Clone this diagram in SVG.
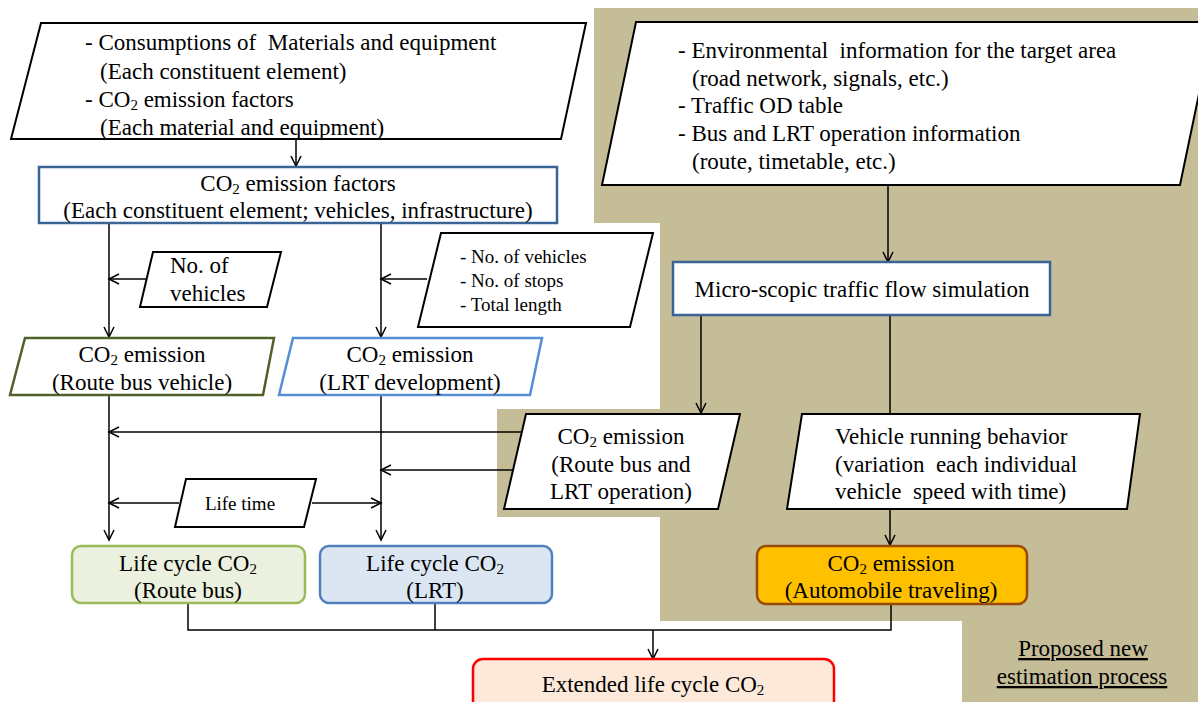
<svg xmlns="http://www.w3.org/2000/svg" width="1198" height="702" viewBox="0 0 1198 702">
<defs>
<marker id="arr" markerUnits="userSpaceOnUse" markerWidth="14" markerHeight="14" refX="11" refY="6" orient="auto">
<path d="M1,1 L11,6 L1,11" fill="none" stroke="#000" stroke-width="1.5"/>
</marker>
<style>
text{font-family:"Liberation Serif","Times New Roman",serif;font-size:23px;fill:#000}
.s{font-size:19px}
.sub{font-size:15px}
.c{text-anchor:middle}
.par{fill:#fff;stroke:#000;stroke-width:2}
.con{fill:none;stroke:#000;stroke-width:1.5}
.blue{fill:#fff;stroke:#3B6496;stroke-width:2.5}
</style>
</defs>
<rect width="1198" height="702" fill="#fff"/>
<polygon id="proposed-area" points="594,8 1198,8 1198,702 962,702 962,621 660,621 660,517 497,517 497,409 660,409 660,223 594,223" fill="#C4BD97"/>

<g id="connectors">
<line class="con" x1="296" y1="139" x2="296" y2="166" marker-end="url(#arr)"/>
<line class="con" x1="109" y1="223" x2="109" y2="337" marker-end="url(#arr)"/>
<line class="con" x1="381" y1="223" x2="381" y2="337" marker-end="url(#arr)"/>
<line class="con" x1="146" y1="279" x2="109" y2="279" marker-end="url(#arr)"/>
<line class="con" x1="427" y1="279" x2="381" y2="279" marker-end="url(#arr)"/>
<line class="con" x1="888" y1="185" x2="888" y2="262" marker-end="url(#arr)"/>
<line class="con" x1="701" y1="315" x2="701" y2="413" marker-end="url(#arr)"/>
<line class="con" x1="890" y1="315" x2="890" y2="413"/>
<line class="con" x1="109" y1="395" x2="109" y2="540" marker-end="url(#arr)"/>
<line class="con" x1="381" y1="395" x2="381" y2="540" marker-end="url(#arr)"/>
<line class="con" x1="521" y1="432" x2="109" y2="432" marker-end="url(#arr)"/>
<line class="con" x1="513" y1="470" x2="381" y2="470" marker-end="url(#arr)"/>
<line class="con" x1="179" y1="503" x2="109" y2="503" marker-end="url(#arr)"/>
<line class="con" x1="312" y1="503" x2="381" y2="503" marker-end="url(#arr)"/>
<line class="con" x1="890" y1="509" x2="890" y2="545" marker-end="url(#arr)"/>
<polyline class="con" points="188,603 188,630 891,630 891,604"/>
<line class="con" x1="435" y1="603" x2="435" y2="630"/>
<line class="con" x1="653" y1="630" x2="653" y2="659" marker-end="url(#arr)"/>
</g>

<g id="inputs-materials">
<polygon class="par" points="41,23 586,23 561,139 11,139"/>
<text x="85" y="50" xml:space="preserve">- Consumptions of  Materials and equipment</text>
<text x="100" y="79">(Each constituent element)</text>
<text x="85" y="107">- CO<tspan class="sub" dy="3">2</tspan><tspan dy="-3"> emission factors</tspan></text>
<text x="100" y="135">(Each material and equipment)</text>
</g>

<g id="emission-factors">
<rect class="blue" x="39" y="167" width="518" height="56"/>
<text class="c" x="298" y="191">CO<tspan class="sub" dy="3">2</tspan><tspan dy="-3"> emission factors</tspan></text>
<text class="c" x="298" y="218">(Each constituent element; vehicles, infrastructure)</text>
</g>

<g id="no-vehicles">
<polygon class="par" points="153,252 281,252 267,307 140,307"/>
<text x="170" y="273">No. of</text>
<text x="170" y="301">vehicles</text>
</g>

<g id="lrt-params">
<polygon class="par" points="441,233 653,233 630,327 418,327"/>
<text class="s" x="460" y="263">- No. of vehicles</text>
<text class="s" x="460" y="287">- No. of stops</text>
<text class="s" x="460" y="311">- Total length</text>
</g>

<g id="co2-bus-vehicle">
<polygon points="25,338 274,338 263,395 10,395" fill="#fff" stroke="#4F6228" stroke-width="2.5"/>
<text class="c" x="142" y="362">CO<tspan class="sub" dy="3">2</tspan><tspan dy="-3"> emission</tspan></text>
<text class="c" x="142" y="390">(Route bus vehicle)</text>
</g>

<g id="co2-lrt-dev">
<polygon points="293,338 542,338 530,395 279,395" fill="#fff" stroke="#558ED5" stroke-width="2.5"/>
<text class="c" x="410" y="362">CO<tspan class="sub" dy="3">2</tspan><tspan dy="-3"> emission</tspan></text>
<text class="c" x="410" y="390">(LRT development)</text>
</g>

<g id="env-info">
<polygon class="par" points="636,22 1214,22 1180,185 602,185"/>
<text x="678" y="58" xml:space="preserve">- Environmental  information for the target area</text>
<text x="692" y="86">(road network, signals, etc.)</text>
<text x="678" y="113">- Traffic OD table</text>
<text x="678" y="141">- Bus and LRT operation information</text>
<text x="692" y="169">(route, timetable, etc.)</text>
</g>

<g id="micro-sim">
<rect class="blue" x="673" y="262" width="377" height="53"/>
<text class="c" x="862" y="297">Micro-scopic traffic flow simulation</text>
</g>

<g id="co2-operation">
<polygon class="par" points="526,414 740,414 718,509 504,509"/>
<text class="c" x="621" y="444">CO<tspan class="sub" dy="3">2</tspan><tspan dy="-3"> emission</tspan></text>
<text class="c" x="621" y="472">(Route bus and</text>
<text class="c" x="621" y="499">LRT operation)</text>
</g>

<g id="vehicle-running">
<polygon class="par" points="802,414 1140,414 1127,509 787,509"/>
<text x="835" y="444">Vehicle running behavior</text>
<text x="835" y="472" xml:space="preserve">(variation  each individual</text>
<text x="835" y="499" xml:space="preserve">vehicle  speed with time)</text>
</g>

<g id="life-time">
<polygon class="par" points="186,479 316,479 304,527 175,527"/>
<text class="c s" x="240" y="510">Life time</text>
</g>

<g id="lc-bus">
<rect x="72" y="546" width="233" height="57" rx="9" fill="#EBF1DE" stroke="#9BBB59" stroke-width="2.5"/>
<text class="c" x="188" y="571">Life cycle CO<tspan class="sub" dy="3">2</tspan></text>
<text class="c" x="188" y="598">(Route bus)</text>
</g>

<g id="lc-lrt">
<rect x="320" y="546" width="232" height="57" rx="9" fill="#DCE6F2" stroke="#4F81BD" stroke-width="2.5"/>
<text class="c" x="435" y="571">Life cycle CO<tspan class="sub" dy="3">2</tspan></text>
<text class="c" x="435" y="598">(LRT)</text>
</g>

<g id="co2-auto">
<rect x="757" y="546" width="270" height="58" rx="9" fill="#FFC000" stroke="#984807" stroke-width="2.5"/>
<text class="c" x="891" y="571">CO<tspan class="sub" dy="3">2</tspan><tspan dy="-3"> emission</tspan></text>
<text class="c" x="891" y="598">(Automobile traveling)</text>
</g>

<g id="extended">
<rect x="473" y="659" width="361" height="60" rx="10" fill="#FDE9D9" stroke="#FF0000" stroke-width="2.5"/>
<text class="c" x="653" y="692">Extended life cycle CO<tspan class="sub" dy="3">2</tspan></text>
</g>

<g id="legend">
<text class="c" x="1083" y="656" style="text-decoration:underline">Proposed new</text>
<text class="c" x="1082" y="684" style="text-decoration:underline">estimation process</text>
</g>
</svg>
